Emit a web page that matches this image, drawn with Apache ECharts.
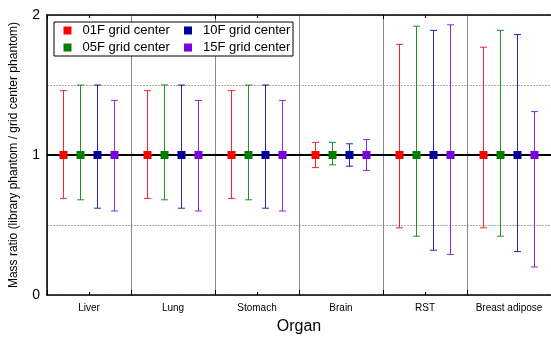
<!DOCTYPE html>
<html><head><meta charset="utf-8">
<script src="https://cdn.jsdelivr.net/npm/echarts@6/dist/echarts.min.js"></script>
<style>html,body{margin:0;padding:0;background:#fff}#c{width:551px;height:340px}</style>
</head><body><div id="c"></div>
<script>
const categories = ['Liver', 'Lung', 'Stomach', 'Brain', 'RST', 'Breast adipose'];
const seriesNames = ['01F grid center', '05F grid center', '10F grid center', '15F grid center'];
const colors = ['#ff0000', '#008000', '#0000a0', '#7a00e0'];
const center01 = [1, 1, 1, 1, 1, 1];
const upper01 = [1.46, 1.46, 1.46, 1.09, 1.79, 1.77];
const lower01 = [0.69, 0.69, 0.69, 0.91, 0.48, 0.48];
const center05 = [1, 1, 1, 1, 1, 1];
const upper05 = [1.50, 1.50, 1.50, 1.09, 1.92, 1.89];
const lower05 = [0.68, 0.68, 0.68, 0.93, 0.42, 0.42];
const center10 = [1, 1, 1, 1, 1, 1];
const upper10 = [1.50, 1.50, 1.50, 1.08, 1.89, 1.86];
const lower10 = [0.62, 0.62, 0.62, 0.92, 0.32, 0.31];
const center15 = [1, 1, 1, 1, 1, 1];
const upper15 = [1.39, 1.39, 1.39, 1.11, 1.93, 1.31];
const lower15 = [0.60, 0.60, 0.60, 0.89, 0.29, 0.20];
const yTickLabels = ['0', '1', '2'];

const centers = [center01, center05, center10, center15];
const uppers = [upper01, upper05, upper10, upper15];
const lowers = [lower01, lower05, lower10, lower15];
const FONT = 'Liberation Sans, Arial, sans-serif';

function makeSeries(k) {
  const data = categories.map((c, i) => [i, centers[k][i], lowers[k][i], uppers[k][i]]);
  const s = {
    name: seriesNames[k],
    type: 'custom',
    xAxisIndex: 0, yAxisIndex: 0,
    itemStyle: { color: colors[k] },
    encode: { x: 0, y: [1, 2, 3] },
    data: data,
    z: 10,
    renderItem: function (params, api) {
      const idx = api.value(0);
      const c = api.coord([idx, api.value(1)]);
      const band = api.size([1, 0])[0];
      const x = Math.round(c[0] + (k - 1.5) * 0.2 * band - 0.5) + 0.5;
      const yl = api.coord([idx, api.value(2)])[1];
      const yh = api.coord([idx, api.value(3)])[1];
      const col = colors[k];
      const ls = { stroke: col, lineWidth: 1, opacity: 0.85 };
      const cw = 3.5, ms = 4;
      return {
        type: 'group',
        children: [
          { type: 'line', shape: { x1: x, y1: yl, x2: x, y2: yh }, style: ls },
          { type: 'line', shape: { x1: x - cw, y1: yh, x2: x + cw, y2: yh }, style: ls },
          { type: 'line', shape: { x1: x - cw, y1: yl, x2: x + cw, y2: yl }, style: ls },
          { type: 'rect', shape: { x: x - ms, y: c[1] - ms, width: 2 * ms, height: 2 * ms }, style: { fill: col }, z2: 20 }
        ]
      };
    }
  };
  if (k === 0) {
    s.markLine = {
      silent: true, symbol: 'none', label: { show: false },
      lineStyle: { color: '#000', width: 2, type: 'solid' },
      data: [{ yAxis: 1 }], z: 5
    };
  }
  return s;
}

const legText = (right) => ({
  fontSize: 13, color: '#000', fontFamily: FONT, lineHeight: 17,
  padding: [0, right, 0, 6], width: 90, overflow: 'truncate', ellipsis: ''
});

const chart = echarts.init(document.getElementById('c'), null, { renderer: 'canvas' });
const tickBase = { show: true, inside: true, lineStyle: { color: '#000', width: 1 } };
chart.setOption({
  animation: false,
  backgroundColor: '#fff',
  textStyle: { fontFamily: FONT },
  grid: { left: 45, top: 15, width: 508.5, bottom: 40, containLabel: false },
  legend: {
    data: [
      { name: seriesNames[0], textStyle: legText(11.5) },
      { name: seriesNames[2], textStyle: legText(0) },
      { name: seriesNames[1], textStyle: legText(11.5) },
      { name: seriesNames[3], textStyle: legText(0) }
    ],
    left: 54, top: 22, width: 240, orient: 'horizontal',
    itemGap: 0, itemWidth: 8, itemHeight: 8, icon: 'rect',
    padding: [0, 0, 0, 9.5],
    borderColor: '#000', borderWidth: 1, backgroundColor: '#fff',
    textStyle: legText(0),
    z: 20
  },
  xAxis: [
    {
      type: 'category', data: categories, position: 'bottom', gridIndex: 0,
      axisLine: { show: true, lineStyle: { color: '#000', width: 1.5 } },
      axisTick: Object.assign({}, tickBase, { length: 5 }),
      axisLabel: { fontSize: 10, color: '#000', margin: 8, fontFamily: FONT, interval: 0 },
      splitLine: { show: true, lineStyle: { color: '#888', width: 1 } },
      name: 'Organ', nameLocation: 'middle', nameGap: 24,
      nameTextStyle: { fontSize: 16, color: '#000', fontFamily: FONT }
    },
    {
      type: 'category', data: categories, position: 'bottom', gridIndex: 0,
      axisLine: { show: false },
      axisTick: Object.assign({}, tickBase, { length: 3, alignWithLabel: true }),
      axisLabel: { show: false }, splitLine: { show: false }
    },
    {
      type: 'category', data: categories, position: 'top', gridIndex: 0,
      axisLine: { show: true, lineStyle: { color: '#000', width: 1.5 } },
      axisTick: Object.assign({}, tickBase, { length: 4 }),
      axisLabel: { show: false }, splitLine: { show: false }
    },
    {
      type: 'category', data: categories, position: 'top', gridIndex: 0,
      axisLine: { show: false },
      axisTick: Object.assign({}, tickBase, { length: 3, alignWithLabel: true }),
      axisLabel: { show: false }, splitLine: { show: false }
    }
  ],
  yAxis: {
    type: 'value', min: 0, max: 2, interval: 0.5,
    axisLine: { show: true, lineStyle: { color: '#000', width: 1.5 } },
    axisTick: { show: false },
    axisLabel: {
      fontSize: 14, color: '#000', margin: 7, fontFamily: FONT,
      formatter: v => (Number.isInteger(v) ? yTickLabels[v] : '')
    },
    splitLine: { show: true, lineStyle: { color: '#aaa', type: [2, 1], width: 1 } },
    name: 'Mass ratio (library phantom / grid center phantom)',
    nameLocation: 'middle', nameGap: 27,
    nameTextStyle: { fontSize: 12, color: '#000', fontFamily: FONT }
  },
  series: [0, 1, 2, 3].map(makeSeries)
});
</script></body></html>
